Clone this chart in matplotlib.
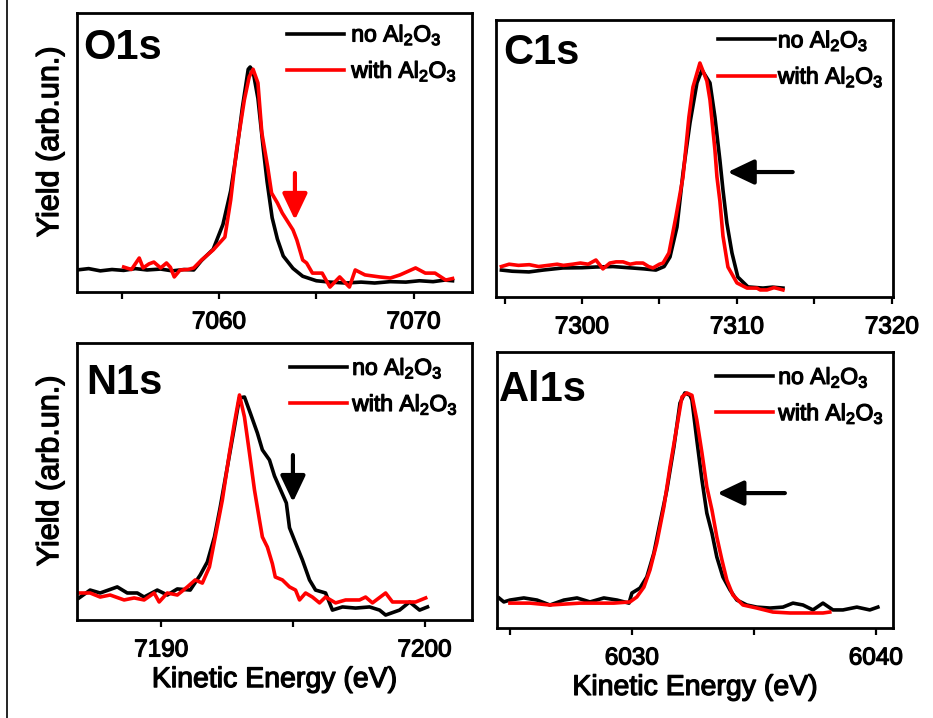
import matplotlib
matplotlib.use("Agg")
import matplotlib.pyplot as plt
import matplotlib.patheffects as pe
from matplotlib.lines import Line2D
from matplotlib.ticker import MultipleLocator, NullFormatter

plt.rcParams['font.family'] = ['Liberation Sans', 'DejaVu Sans']
plt.rcParams['mathtext.fontset'] = 'custom'
plt.rcParams['mathtext.rm'] = 'Liberation Sans'
plt.rcParams['mathtext.it'] = 'Liberation Sans:italic'
plt.rcParams['mathtext.bf'] = 'Liberation Sans:bold'

# ---------------- O1s ----------------
o1s_no_E = [7052.7, 7053.3, 7053.9, 7054.5, 7055.1, 7055.7, 7056.3, 7057.0, 7057.6, 7058.2,
            7058.7, 7059.1, 7059.7, 7060.2, 7060.6, 7060.9, 7061.2, 7061.5, 7061.6, 7061.75,
            7062.0, 7062.27, 7062.47, 7062.73, 7063.0, 7063.3, 7063.8, 7064.3, 7065.0, 7065.7,
            7066.5, 7067.3, 7068.0, 7068.8, 7069.6, 7070.3, 7071.0, 7071.6, 7072.0]
o1s_no_y = [0.098, 0.104, 0.094, 0.100, 0.096, 0.104, 0.098, 0.102, 0.094, 0.100,
            0.098, 0.140, 0.190, 0.300, 0.450, 0.620, 0.820, 0.990, 1.000, 0.980,
            0.860, 0.640, 0.490, 0.330, 0.235, 0.160, 0.105, 0.070, 0.050, 0.044,
            0.040, 0.044, 0.040, 0.046, 0.044, 0.050, 0.046, 0.053, 0.050]
o1s_with_E = [7055.1, 7055.5, 7055.9, 7056.1, 7056.4, 7056.65, 7057.0, 7057.3, 7057.5, 7057.7,
              7058.0, 7058.4, 7058.7, 7059.1, 7059.7, 7060.3, 7060.6, 7060.9, 7061.3, 7061.55,
              7061.75, 7062.0, 7062.2, 7062.5, 7062.7, 7063.0, 7063.25, 7063.8, 7064.0, 7064.3,
              7064.5, 7064.8, 7065.3, 7065.7, 7066.2, 7066.7, 7067.0, 7067.5, 7068.25, 7068.8,
              7069.3, 7070.1, 7070.6, 7071.1, 7071.65, 7072.0]
o1s_with_y = [0.111, 0.100, 0.151, 0.107, 0.125, 0.133, 0.107, 0.129, 0.110, 0.067,
              0.098, 0.100, 0.107, 0.142, 0.187, 0.244, 0.409, 0.631, 0.853, 0.956,
              0.990, 0.929, 0.707, 0.556, 0.440, 0.396, 0.351, 0.276, 0.231, 0.142,
              0.129, 0.084, 0.084, 0.022, 0.067, 0.022, 0.098, 0.076, 0.067, 0.062,
              0.076, 0.107, 0.084, 0.084, 0.053, 0.060]

# ---------------- C1s ----------------
c1s_no_E = [7294.8, 7295.5, 7296.58, 7297.5, 7298.77, 7300.0, 7300.9, 7302.0, 7303.0, 7304.0,
            7304.77, 7305.3, 7305.68, 7306.13, 7306.52, 7306.97, 7307.42, 7307.74, 7308.26,
            7308.58, 7308.9, 7309.1, 7309.35, 7309.68, 7310.06, 7310.71, 7311.68, 7312.3, 7312.97]
c1s_no_y = [0.115, 0.110, 0.107, 0.115, 0.124, 0.125, 0.128, 0.130, 0.125, 0.120,
            0.115, 0.130, 0.171, 0.299, 0.530, 0.744, 0.915, 0.970, 0.915,
            0.769, 0.585, 0.457, 0.316, 0.188, 0.085, 0.043, 0.038, 0.042, 0.038]
c1s_with_E = [7294.8, 7295.3, 7295.9, 7296.6, 7297.2, 7297.8, 7298.4, 7298.8, 7299.4, 7299.9,
              7300.4, 7300.9, 7301.35, 7301.8, 7302.2, 7302.65, 7303.1, 7303.5, 7303.94, 7304.3,
              7304.58, 7305.0, 7305.23, 7305.61, 7306.06, 7306.52, 7306.9, 7307.16, 7307.61, 7308.06,
              7308.26, 7308.58, 7308.71, 7308.9, 7309.1, 7309.42, 7310.0, 7310.65, 7311.29, 7311.5,
              7311.94, 7312.4, 7312.97]
c1s_with_y = [0.130, 0.140, 0.135, 0.138, 0.130, 0.135, 0.140, 0.135, 0.140, 0.145,
              0.140, 0.158, 0.120, 0.145, 0.150, 0.150, 0.140, 0.145, 0.145, 0.130,
              0.124, 0.140, 0.145, 0.188, 0.342, 0.513, 0.769, 0.897, 1.000, 0.923,
              0.842, 0.628, 0.513, 0.410, 0.260, 0.128, 0.060, 0.038, 0.038, 0.030,
              0.030, 0.040, 0.030]

# ---------------- N1s ----------------
n1s_no_E = [7186.88, 7187.30, 7187.68, 7188.33, 7188.71, 7189.09, 7189.35, 7189.85, 7190.23, 7190.61,
            7191.10, 7191.48, 7191.75, 7192.02, 7192.24, 7192.51, 7192.78, 7192.97, 7193.16, 7193.38,
            7193.65, 7193.84, 7194.11, 7194.30, 7194.60, 7194.75, 7194.87, 7195.10, 7195.36, 7195.63,
            7195.86, 7196.24, 7196.50, 7196.88, 7197.38, 7197.91, 7198.29, 7198.52, 7199.05, 7199.43,
            7199.81, 7200.11]
n1s_no_y = [0.098, 0.133, 0.120, 0.147, 0.120, 0.120, 0.102, 0.133, 0.111, 0.138,
            0.133, 0.200, 0.258, 0.369, 0.502, 0.680, 0.858, 0.987, 0.991, 0.920,
            0.831, 0.756, 0.711, 0.640, 0.560, 0.520, 0.410, 0.342, 0.267, 0.178,
            0.133, 0.120, 0.044, 0.058, 0.053, 0.058, 0.044, 0.022, 0.044, 0.080,
            0.044, 0.058]
n1s_with_E = [7186.88, 7187.30, 7187.68, 7188.06, 7188.59, 7188.97, 7189.35, 7189.73, 7189.92, 7190.23,
              7190.61, 7190.99, 7191.29, 7191.56, 7191.83, 7192.05, 7192.32, 7192.59, 7192.78, 7192.97,
              7193.16, 7193.35, 7193.54, 7193.73, 7193.84, 7194.03, 7194.22, 7194.33, 7194.60, 7194.87,
              7195.10, 7195.25, 7195.48, 7195.74, 7196.01, 7196.24, 7196.62, 7197.00, 7197.53, 7197.76,
              7198.02, 7198.52, 7198.78, 7199.28, 7199.66, 7200.04]
n1s_with_y = [0.120, 0.120, 0.102, 0.111, 0.089, 0.098, 0.089, 0.120, 0.080, 0.120,
              0.111, 0.147, 0.178, 0.164, 0.236, 0.369, 0.533, 0.742, 0.876, 1.000,
              0.902, 0.742, 0.578, 0.444, 0.369, 0.324, 0.250, 0.191, 0.178, 0.147,
              0.133, 0.089, 0.120, 0.102, 0.076, 0.102, 0.076, 0.089, 0.089, 0.102,
              0.076, 0.120, 0.080, 0.080, 0.080, 0.098]

# ---------------- Al1s ----------------
al1s_no_E = [6024.55, 6024.75, 6025.0, 6025.57, 6026.11, 6026.64, 6027.21, 6027.75, 6028.28, 6028.85,
             6029.39, 6029.88, 6030.0, 6030.33, 6030.61, 6030.90, 6031.15, 6031.43, 6031.72, 6031.97,
             6032.17, 6032.38, 6032.46, 6032.66, 6032.87, 6033.07, 6033.28, 6033.48, 6033.73, 6034.02,
             6034.30, 6034.71, 6035.12, 6035.66, 6036.19, 6036.60, 6037.01, 6037.42, 6037.83, 6038.24,
             6038.65, 6039.22, 6039.75, 6040.08]
al1s_no_y = [0.128, 0.111, 0.119, 0.128, 0.119, 0.098, 0.119, 0.128, 0.111, 0.128,
             0.119, 0.106, 0.149, 0.170, 0.217, 0.319, 0.447, 0.587, 0.770, 0.957,
             1.000, 0.990, 0.970, 0.800, 0.630, 0.489, 0.404, 0.302, 0.217, 0.162,
             0.119, 0.098, 0.089, 0.085, 0.089, 0.106, 0.098, 0.077, 0.106, 0.077,
             0.077, 0.089, 0.077, 0.089]
al1s_with_E = [6025.0, 6025.82, 6026.64, 6027.87, 6029.26, 6029.92, 6030.2, 6030.49, 6030.74, 6031.02,
               6031.31, 6031.56, 6031.84, 6032.05, 6032.25, 6032.46, 6032.66, 6032.87, 6033.07, 6033.28,
               6033.48, 6033.69, 6033.89, 6034.14, 6034.55, 6035.12, 6035.78, 6036.48, 6037.17, 6037.83,
               6038.11]
al1s_with_y = [0.106, 0.106, 0.098, 0.106, 0.106, 0.111, 0.132, 0.174, 0.247, 0.362,
               0.515, 0.685, 0.855, 0.983, 1.000, 0.990, 0.885, 0.745, 0.600, 0.502,
               0.387, 0.289, 0.204, 0.140, 0.098, 0.085, 0.068, 0.064, 0.064, 0.064,
               0.068]

panels = [
    dict(name="O1s", rect=[0.0825, 0.5933, 0.4234, 0.3886], xlim=(7052.7, 7073.0), ylim=(0, 1.24),
         no=(o1s_no_E, o1s_no_y), with_=(o1s_with_E, o1s_with_y),
         title_xy=(0.015, 0.875), leg_xy=(0.532, 0.858), textpad=0.3, ylabel=True, xlabel=False,
         arrow=dict(tail=(7063.9, 0.529), tip=(7063.9, 0.32), color="#ff0000")),
    dict(name="C1s", rect=[0.5316, 0.5864, 0.4255, 0.3858], xlim=(7294.45, 7320.07), ylim=(0, 1.184),
         no=(c1s_no_E, c1s_no_y), with_=(c1s_with_E, c1s_with_y),
         title_xy=(0.018, 0.88), leg_xy=(0.559, 0.861), textpad=0.12, ylabel=False, xlabel=False,
         arrow=dict(tail=(7313.6, 0.534), tip=(7309.4, 0.534), color="#000000")),
    dict(name="N1s", rect=[0.0825, 0.1365, 0.4234, 0.3858], xlim=(7186.8, 7201.8), ylim=(0, 1.231),
         no=(n1s_no_E, n1s_no_y), with_=(n1s_with_E, n1s_with_y),
         title_xy=(0.023, 0.856), leg_xy=(0.539, 0.845), textpad=0.22, ylabel=True, xlabel=True,
         arrow=dict(tail=(7195.0, 0.733), tip=(7195.0, 0.524), color="#000000")),
    dict(name="Al1s", rect=[0.5327, 0.1253, 0.4244, 0.3844], xlim=(6024.47, 6040.7), ylim=(0, 1.174),
         no=(al1s_no_E, al1s_no_y), with_=(al1s_with_E, al1s_with_y),
         title_xy=(0.005, 0.862), leg_xy=(0.553, 0.844), textpad=0.22, ylabel=False, xlabel=True,
         arrow=dict(tail=(6036.27, 0.574), tip=(6033.5, 0.574), color="#000000")),
]

# slightly heavier glyph strokes for the regular-weight texts
heavy = [pe.withStroke(linewidth=0.9, foreground="black")]

fig = plt.figure(figsize=(9.33, 7.18), dpi=100)

for p in panels:
    ax = fig.add_axes(p["rect"])
    ax.plot(*p["no"], color="#000000", lw=2.6, label="no Al$_2$O$_3$")
    ax.plot(*p["with_"], color="#ff0000", lw=2.6, label="with Al$_2$O$_3$")
    ax.set_xlim(*p["xlim"])
    ax.set_ylim(*p["ylim"])
    for s in ax.spines.values():
        s.set_linewidth(2.0)
    ax.set_yticks([])
    ax.xaxis.set_major_locator(MultipleLocator(10))
    ax.xaxis.set_minor_locator(MultipleLocator(5))
    ax.xaxis.set_minor_formatter(NullFormatter())
    ax.tick_params(axis="x", which="both", direction="out", length=5, width=1.6,
                   labelsize=17.5, pad=9)
    for lbl in ax.get_xticklabels():
        lbl.set_path_effects(heavy)
    ax.text(*p["title_xy"], p["name"], transform=ax.transAxes, fontsize=30,
            fontweight="bold", ha="left", va="center")
    leg = ax.legend(loc="center left", bbox_to_anchor=p["leg_xy"], frameon=False,
                    fontsize=16.5, handlelength=2.5, handletextpad=p["textpad"],
                    labelspacing=0.45, borderpad=0, borderaxespad=0)
    for t in leg.get_texts():
        t.set_path_effects(heavy)
    for h in leg.get_lines():
        h.set_linewidth(2.6)
    a = p["arrow"]
    ax.annotate("", xy=a["tip"], xytext=a["tail"],
                arrowprops=dict(arrowstyle="-|>,head_length=0.8,head_width=0.38",
                                mutation_scale=20, lw=3.0, color=a["color"],
                                shrinkA=0, shrinkB=0))
    if p["ylabel"]:
        ax.set_ylabel("Yield (arb.un.)", fontsize=22, path_effects=heavy)
        ax.yaxis.set_label_coords(-0.03, 0.537)
    if p["xlabel"]:
        ax.set_xlabel("Kinetic Energy (eV)", fontsize=20.5, path_effects=heavy)
        ax.xaxis.set_label_coords(0.5, -0.17)
        ax.xaxis.label.set_va("top")

fig.add_artist(Line2D([7.5 / 933, 7.5 / 933], [0, 1], transform=fig.transFigure,
                      color="black", lw=1.2))

fig.savefig("out.png", dpi=100)
